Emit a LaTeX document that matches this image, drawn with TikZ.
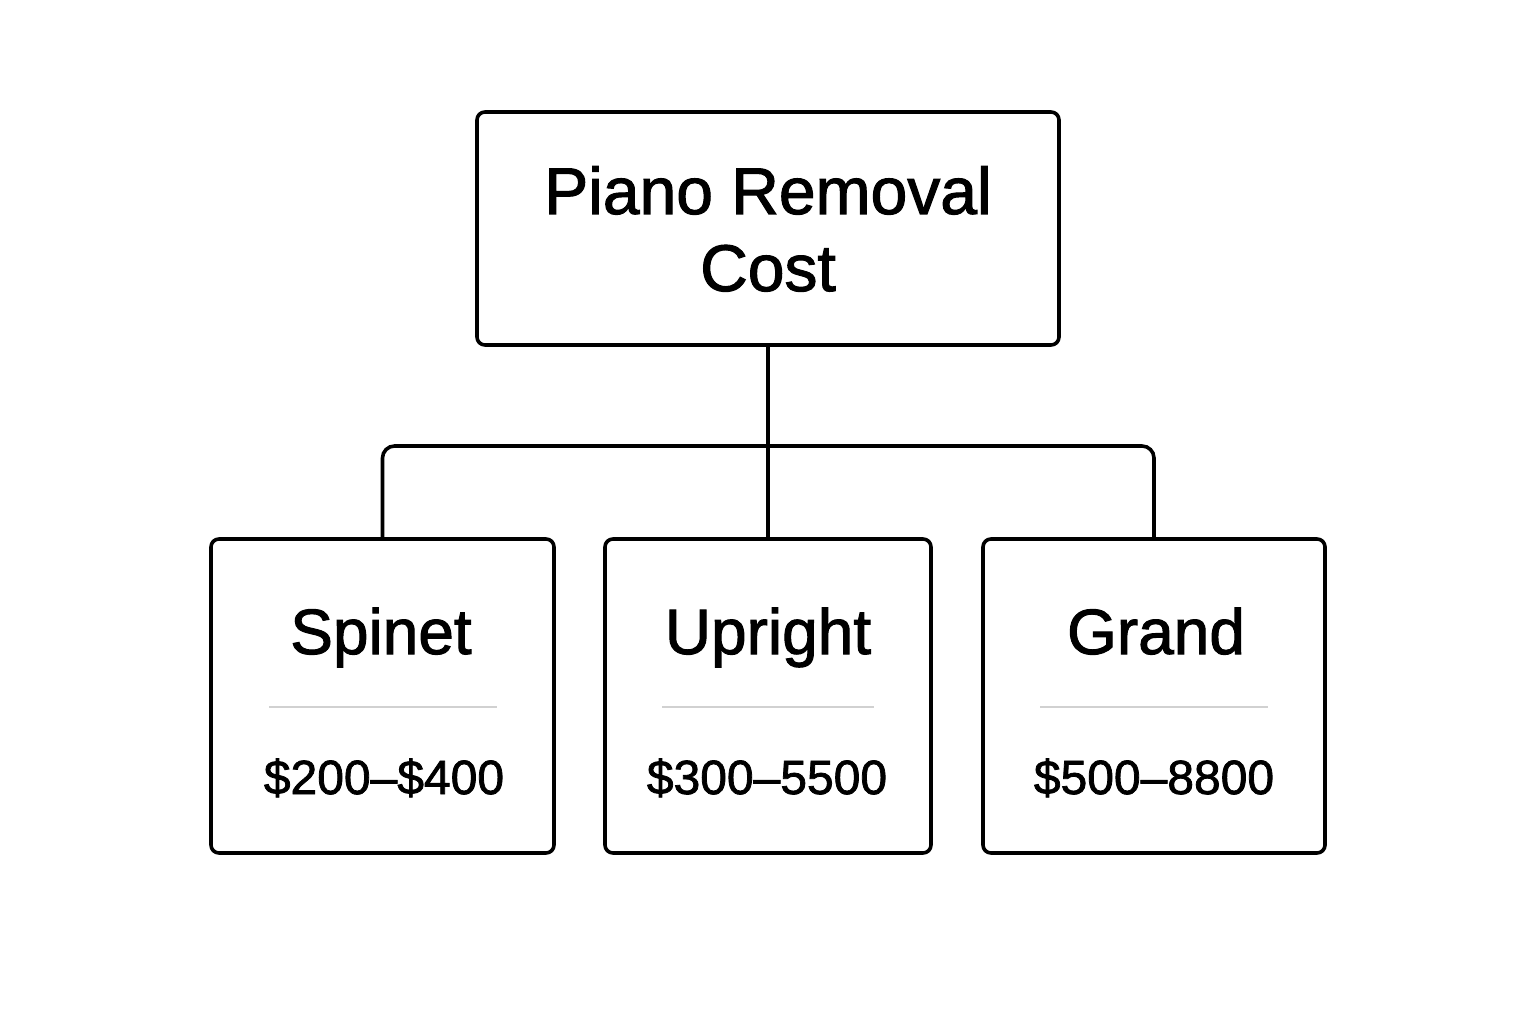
\documentclass[tikz,border=0pt]{standalone}
\usepackage{fontspec}
\setmainfont{Liberation Sans}[FakeBold=1.6]
\begin{document}
\begin{tikzpicture}[x=1pt,y=-1pt,
  box/.style={draw=black,line width=3.6pt,rounded corners=8pt,fill=white,inner sep=0pt},
  conn/.style={draw=black,line width=3.6pt},
  divider/.style={draw=black!18,line width=2pt},
  title/.style={font=\fontsize{66}{77}\selectfont,anchor=base,text=black},
  label/.style={font=\fontsize{64}{70}\selectfont,anchor=base,text=black},
  price/.style={font=\fontsize{48}{56}\selectfont,anchor=base,text=black}]
\useasboundingbox[fill=white] (0,0) rectangle (1536,1024);
% boxes
\node[box,minimum width=582pt,minimum height=233pt] (top) at (768,228.5) {};
\node[box,minimum width=343pt,minimum height=314pt] (spinet) at (382.5,696) {};
\node[box,minimum width=326pt,minimum height=314pt] (upright) at (768,696) {};
\node[box,minimum width=342pt,minimum height=314pt] (grand) at (1154,696) {};
% connectors
\coordinate (bar) at (768,446);
\draw[conn] (top.south) -- (upright.north);
\draw[conn,rounded corners=12pt] (spinet.north) |- (bar) -| (grand.north);
% texts
\node[title] (toptext1) at (768,214) {Piano Removal};
\node[title] (toptext2) at (768,291) {Cost};
\node[label] (spinetT) at (381,654) {Spinet};
\node[label] (uprightT) at (768,654) {Upright};
\node[label] (grandT) at (1156,654) {Grand};
\draw[divider] (269,707) -- (497,707);
\draw[divider] (662,707) -- (874,707);
\draw[divider] (1040,707) -- (1268,707);
\node[price] (spinetP) at (384,794) {\$200–\$400};
\node[price] (uprightP) at (767,794) {\$300–5500};
\node[price] (grandP) at (1154,794) {\$500–8800};
\end{tikzpicture}
\end{document}
